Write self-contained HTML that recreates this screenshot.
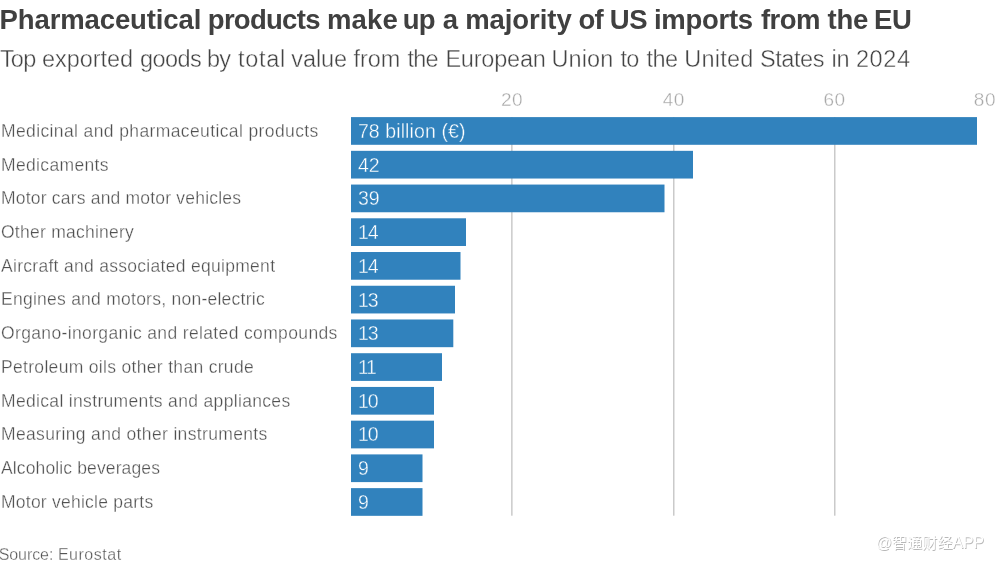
<!DOCTYPE html>
<html lang="en">
<head>
<meta charset="utf-8">
<title>Pharmaceutical products make up a majority of US imports from the EU</title>
<style>
html,body{margin:0;padding:0;background:#fff;}
body{width:995px;height:563px;position:relative;overflow:hidden;font-family:"Liberation Sans","Noto Sans CJK SC",sans-serif;}
svg.chart{position:absolute;left:0;top:0;}
.t{position:absolute;white-space:nowrap;line-height:1;margin:0;}
h1.t{left:0;top:5.6px;width:995px;height:28px;font-size:27.5px;font-weight:bold;color:#404040;}
h1.t span,p.sub span{position:absolute;top:0;white-space:nowrap;}
p.sub{left:0;top:47.9px;width:995px;height:24px;font-size:23.5px;color:#444;-webkit-text-stroke:0.4px #fff;}
.tick{font-size:19px;color:#a8a8a8;-webkit-text-stroke:0.35px #fff;top:90.1px;letter-spacing:0.5px;}
.lab{left:1.0px;font-size:17.5px;color:#505050;-webkit-text-stroke:0.3px #fff;}
.val{left:357.9px;font-size:19.5px;color:#fff;letter-spacing:0.1px;-webkit-text-stroke:0.35px #3182bd;}
.src{left:-1.3px;top:547.3px;font-size:16px;color:#555;letter-spacing:0.15px;-webkit-text-stroke:0.3px #fff;}
.wm span{font-size:15.8px;}
.wm{left:876.0px;top:534.7px;font-size:15.1px;color:#fff;text-shadow:0.8px 0.8px 0.6px rgba(0,0,0,0.28);}
</style>
</head>
<body>
<svg class="chart" width="995" height="563" viewBox="0 0 995 563">
<g fill="#cacaca">
<rect x="511.1" y="117" width="1.5" height="398.7"/>
<rect x="673" y="117" width="1.5" height="398.7"/>
<rect x="834" y="117" width="1.5" height="398.7"/>
</g>
<g fill="#3182bd">
<rect x="351" y="117.10" width="626.0" height="27.7"/>
<rect x="351" y="150.83" width="342.0" height="27.7"/>
<rect x="351" y="184.56" width="313.5" height="27.7"/>
<rect x="351" y="218.29" width="115.0" height="27.7"/>
<rect x="351" y="252.02" width="109.5" height="27.7"/>
<rect x="351" y="285.75" width="104.0" height="27.7"/>
<rect x="351" y="319.48" width="102.3" height="27.7"/>
<rect x="351" y="353.21" width="91.0" height="27.7"/>
<rect x="351" y="386.94" width="83.0" height="27.7"/>
<rect x="351" y="420.67" width="83.0" height="27.7"/>
<rect x="351" y="454.40" width="71.5" height="27.7"/>
<rect x="351" y="488.13" width="71.5" height="27.7"/>
</g>
</svg>
<h1 class="t"><span style="left:-0.40px;letter-spacing:-0.123px">Pharmaceutical</span> <span style="left:207.80px;letter-spacing:-0.714px">products</span> <span style="left:326.90px;letter-spacing:0.167px">make</span> <span style="left:402.75px;letter-spacing:-0.800px">up</span> <span style="left:442.85px;letter-spacing:0.000px">a</span> <span style="left:465.20px;letter-spacing:-0.071px">majority</span> <span style="left:578.60px;letter-spacing:-0.800px">of</span> <span style="left:609.70px;letter-spacing:-0.400px">US</span> <span style="left:653.90px;letter-spacing:-0.267px">imports</span> <span style="left:760.90px;letter-spacing:-0.533px">from</span> <span style="left:827.50px;letter-spacing:-0.200px">the</span> <span style="left:874.00px;letter-spacing:-0.300px">EU</span></h1>
<p class="t sub"><span style="left:-0.10px;letter-spacing:-0.800px">Top</span> <span style="left:42.00px;letter-spacing:-0.057px">exported</span> <span style="left:140.00px;letter-spacing:-0.575px">goods</span> <span style="left:207.00px;letter-spacing:-0.800px">by</span> <span style="left:238.00px;letter-spacing:0.725px">total</span> <span style="left:291.30px;letter-spacing:-0.100px">value</span> <span style="left:353.60px;letter-spacing:-0.067px">from</span> <span style="left:407.55px;letter-spacing:-0.800px">the</span> <span style="left:445.40px;letter-spacing:-0.200px">European</span> <span style="left:551.40px;letter-spacing:0.125px">Union</span> <span style="left:620.50px;letter-spacing:-0.800px">to</span> <span style="left:646.50px;letter-spacing:-0.600px">the</span> <span style="left:684.30px;letter-spacing:0.240px">United</span> <span style="left:759.90px;letter-spacing:-0.400px">States</span> <span style="left:831.50px;letter-spacing:-0.300px">in</span> <span style="left:855.90px;letter-spacing:0.600px">2024</span></p>
<span class="t tick" style="left:501px">20</span>
<span class="t tick" style="left:662.7px">40</span>
<span class="t tick" style="left:823.5px">60</span>
<span class="t tick" style="right:-1px">80</span>
<div class="t lab" style="top:122.80px;letter-spacing:0.383px">Medicinal and pharmaceutical products</div>
<div class="t val" style="top:121.90px">78 billion (€)</div>
<div class="t lab" style="top:156.53px;letter-spacing:0.350px">Medicaments</div>
<div class="t val" style="top:155.63px">42</div>
<div class="t lab" style="top:190.26px;letter-spacing:0.200px">Motor cars and motor vehicles</div>
<div class="t val" style="top:189.36px">39</div>
<div class="t lab" style="top:223.99px;letter-spacing:0.250px">Other machinery</div>
<div class="t val" style="top:223.09px;letter-spacing:-1.0px">14</div>
<div class="t lab" style="top:257.72px;letter-spacing:0.294px">Aircraft and associated equipment</div>
<div class="t val" style="top:256.82px;letter-spacing:-1.0px">14</div>
<div class="t lab" style="top:291.45px;letter-spacing:0.253px">Engines and motors, non-electric</div>
<div class="t val" style="top:290.55px;letter-spacing:-1.0px">13</div>
<div class="t lab" style="top:325.18px;letter-spacing:0.361px">Organo-inorganic and related compounds</div>
<div class="t val" style="top:324.28px;letter-spacing:-1.0px">13</div>
<div class="t lab" style="top:358.91px;letter-spacing:0.317px">Petroleum oils other than crude</div>
<div class="t val" style="top:358.01px;letter-spacing:-1.2px">11</div>
<div class="t lab" style="top:392.64px;letter-spacing:0.332px">Medical instruments and appliances</div>
<div class="t val" style="top:391.74px;letter-spacing:-1.0px">10</div>
<div class="t lab" style="top:426.37px;letter-spacing:0.350px">Measuring and other instruments</div>
<div class="t val" style="top:425.47px;letter-spacing:-1.0px">10</div>
<div class="t lab" style="top:460.10px;letter-spacing:0.128px">Alcoholic beverages</div>
<div class="t val" style="top:459.20px">9</div>
<div class="t lab" style="top:493.83px;letter-spacing:0.239px">Motor vehicle parts</div>
<div class="t val" style="top:492.93px">9</div>
<div class="t src"><span style="letter-spacing:-0.08px">Source:</span> <span style="letter-spacing:0.52px">Eurostat</span></div>
<div class="t wm"><span>@</span>智通财经<span>APP</span></div>
</body>
</html>
